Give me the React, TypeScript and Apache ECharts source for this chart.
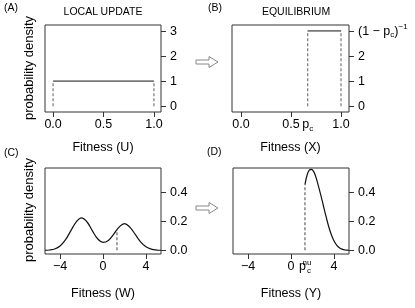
import { useEffect, useRef } from 'react';
import * as echarts from 'echarts';

// ---- data ----
const uniformX = [0, 1];
const uniformDensity = [1, 1];
const pcValue = 0.667;
const equilibriumX = [pcValue, 1];
const equilibriumDensity = [3, 3];
const thresholdW = 1.3;
const thresholdDensityW = 0.14;
const thresholdDensityY = 0.45;
const curveWX = [-5.4, -5, -4.5, -4, -3.5, -3, -2.5, -2, -1.5, -1, -0.5, 0, 0.5, 1, 1.5, 2, 2.5, 3, 3.5, 4, 4.5, 5, 5.4];
const curveWY = [0.0007, 0.0024, 0.0096, 0.0297, 0.0712, 0.1331, 0.1937, 0.222, 0.1955, 0.1351, 0.0791, 0.054, 0.0679, 0.1113, 0.1589, 0.183, 0.1584, 0.1089, 0.0583, 0.0243, 0.0079, 0.002, 0.0006];
const curveYX = [1.3, 1.5, 1.7, 1.9, 2.1, 2.3, 2.5, 2.75, 3, 3.25, 3.5, 3.75, 4, 4.25, 4.5, 4.75, 5, 5.4];
const curveYY = [0.45, 0.515, 0.548, 0.553, 0.54, 0.505, 0.455, 0.385, 0.31, 0.235, 0.165, 0.108, 0.065, 0.036, 0.018, 0.008, 0.003, 0.0005];
const yTicksTop = [0, 1, 2, 3];
const yTicksBottom = [0, 0.2, 0.4];
const xTicksTop = [0, 0.5, 1];
const xTicksBottom = [-4, 0, 4];

const FONT = 'Liberation Sans, Arial, Helvetica, sans-serif';
const BOX = '#333';
const LBL = 12.5;

const rich = {
  p: { fontSize: LBL, lineHeight: 16, fontFamily: FONT, color: '#000' },
  sub: { fontSize: 8, lineHeight: 7, verticalAlign: 'bottom', fontFamily: FONT, color: '#000' },
  sup: { fontSize: 8, lineHeight: 7, verticalAlign: 'top', fontFamily: FONT, color: '#000' },
  supz: { fontSize: 8, lineHeight: 7, verticalAlign: 'top', width: 0, padding: [0, 0, 0, 1], fontFamily: FONT, color: '#000' },
};

const fmtNum = (v: number, d: number) => (v < 0 ? '\u2212' + Math.abs(v).toFixed(d) : v.toFixed(d));

function xAxis(gridIndex: number, min: number, max: number, ticks: number[], labels: number[], name: string, nameGap: number, fmt: (v: number) => string) {
  return {
    type: 'value', gridIndex, min, max,
    axisLine: { show: false, onZero: false },
    splitLine: { show: false },
    axisTick: { show: true, length: 5, lineStyle: { color: BOX, width: 1 }, customValues: ticks },
    axisLabel: { customValues: labels, margin: 4, fontSize: LBL, lineHeight: 16, fontFamily: FONT, color: '#000', formatter: fmt, rich },
    name, nameLocation: 'middle', nameGap,
    nameTextStyle: { fontSize: LBL, fontFamily: FONT, color: '#000' },
  };
}

function yAxis(gridIndex: number, min: number, max: number, ticks: number[], fmt: (v: number) => string) {
  return {
    type: 'value', gridIndex, min, max, position: 'right',
    axisLine: { show: false, onZero: false },
    splitLine: { show: false },
    axisTick: { show: true, length: 5, lineStyle: { color: BOX, width: 1 }, customValues: ticks },
    axisLabel: { customValues: ticks, margin: 9, fontSize: LBL, lineHeight: 16, fontFamily: FONT, color: '#000', formatter: fmt, rich },
  };
}

function lineSeries(idx: number, data: number[][], color: string, width: number, dashed: boolean, smooth: boolean | number = false) {
  return {
    type: 'line', xAxisIndex: idx, yAxisIndex: idx, data, symbol: 'none', smooth,
    lineStyle: { color, width, type: dashed ? [3, 2] : 'solid' },
    silent: true,
  };
}

export default function App() {
  const ref = useRef<HTMLDivElement>(null);
  useEffect(() => {
    if (!ref.current) return;
    const chart = echarts.init(ref.current, undefined, { renderer: 'svg' });
    const grids = [
      { left: 45, top: 25, width: 116, height: 87 },
      { left: 232, top: 25, width: 117, height: 87 },
      { left: 45, top: 168, width: 116, height: 86 },
      { left: 233, top: 168, width: 116, height: 86 },
    ].map((g) => ({ ...g, show: true, borderColor: BOX, borderWidth: 1, backgroundColor: 'transparent' }));

    const fmtTopX = (v: number) => fmtNum(v, 1);
    const fmtBX = (v: number) => (Math.abs(v - pcValue) < 1e-6 ? '{p|p}{sub|c}' : fmtNum(v, 1));
    const fmtDX = (v: number) => (Math.abs(v - thresholdW) < 1e-6 ? '{p|p}{supz|nu}{sub|c}' : fmtNum(v, 0));
    const fmtCX = (v: number) => fmtNum(v, 0);
    const fmtTopY = (v: number) => String(v);
    const fmtBY = (v: number) => (v === 3 ? '(1 \u2212 {p|p}{sub|c}){sup|\u22121}' : String(v));
    const fmtBotY = (v: number) => v.toFixed(1);

    const textEl = (text: string, x: number, y: number, size: number, align = 'left', rotation = 0) => ({
      type: 'text', x, y, rotation, silent: true,
      style: { text, fontSize: size, fontFamily: FONT, fill: '#000', align, textAlign: align, verticalAlign: 'middle', textVerticalAlign: 'middle' },
    });
    const arrow = (x: number, y: number) => ({
      type: 'polygon', silent: true,
      shape: { points: [[x, y - 2], [x + 13, y - 2], [x + 13, y - 5.5], [x + 22, y], [x + 13, y + 5.5], [x + 13, y + 2], [x, y + 2]] },
      style: { fill: '#fff', stroke: '#888', lineWidth: 1 },
    });

    chart.setOption({
      animation: false,
      grid: grids,
      xAxis: [
        xAxis(0, -0.08, 1.07, xTicksTop, xTicksTop, 'Fitness (U)', 28, fmtTopX),
        xAxis(1, -0.09, 1.08, xTicksTop, [0, 0.5, pcValue, 1], 'Fitness (X)', 28, fmtBX),
        xAxis(2, -5.4, 5.4, xTicksBottom, xTicksBottom, 'Fitness (W)', 32, fmtCX),
        xAxis(3, -5.4, 5.4, xTicksBottom, [-4, 0, thresholdW, 4], 'Fitness (Y)', 32, fmtDX),
      ],
      yAxis: [
        yAxis(0, -0.23, 3.23, yTicksTop, fmtTopY),
        yAxis(1, -0.23, 3.23, yTicksTop, fmtBY),
        yAxis(2, -0.025, 0.563, yTicksBottom, fmtBotY),
        yAxis(3, -0.025, 0.563, yTicksBottom, fmtBotY),
      ],
      series: [
        lineSeries(0, uniformX.map((x, i) => [x, uniformDensity[i]]), '#777', 1.8, false),
        ...uniformX.map((x, i) => lineSeries(0, [[x, 0], [x, uniformDensity[i]]], '#777', 1.2, true)),
        lineSeries(1, equilibriumX.map((x, i) => [x, equilibriumDensity[i]]), '#777', 1.8, false),
        ...equilibriumX.map((x, i) => lineSeries(1, [[x, 0], [x, equilibriumDensity[i]]], '#777', 1.2, true)),
        lineSeries(2, curveWX.map((x, i) => [x, curveWY[i]]), '#111', 1.2, false, 0.4),
        lineSeries(2, [[thresholdW, 0], [thresholdW, thresholdDensityW]], '#555', 1.1, true),
        lineSeries(3, curveYX.map((x, i) => [x, curveYY[i]]), '#111', 1.2, false, 0.4),
        lineSeries(3, [[thresholdW, 0], [thresholdW, thresholdDensityY]], '#555', 1.1, true),
      ],
      graphic: [
        textEl('(A)', 4, 7, 10.5),
        textEl('LOCAL UPDATE', 103, 11, 10.5, 'center'),
        textEl('(B)', 208, 7, 10.5),
        textEl('EQUILIBRIUM', 296, 11, 10.5, 'center'),
        textEl('(C)', 4, 152, 10.5),
        textEl('(D)', 207, 151, 10.5),
        textEl('probability density', 28, 68, 13, 'center', Math.PI / 2),
        textEl('probability density', 28, 210, 13, 'center', Math.PI / 2),
        arrow(196, 62),
        arrow(196, 208),
      ],
    });
    return () => chart.dispose();
  }, []);
  return <div ref={ref} style={{ position: 'fixed', left: 0, top: 0, width: 415, height: 308 }} />;
}
